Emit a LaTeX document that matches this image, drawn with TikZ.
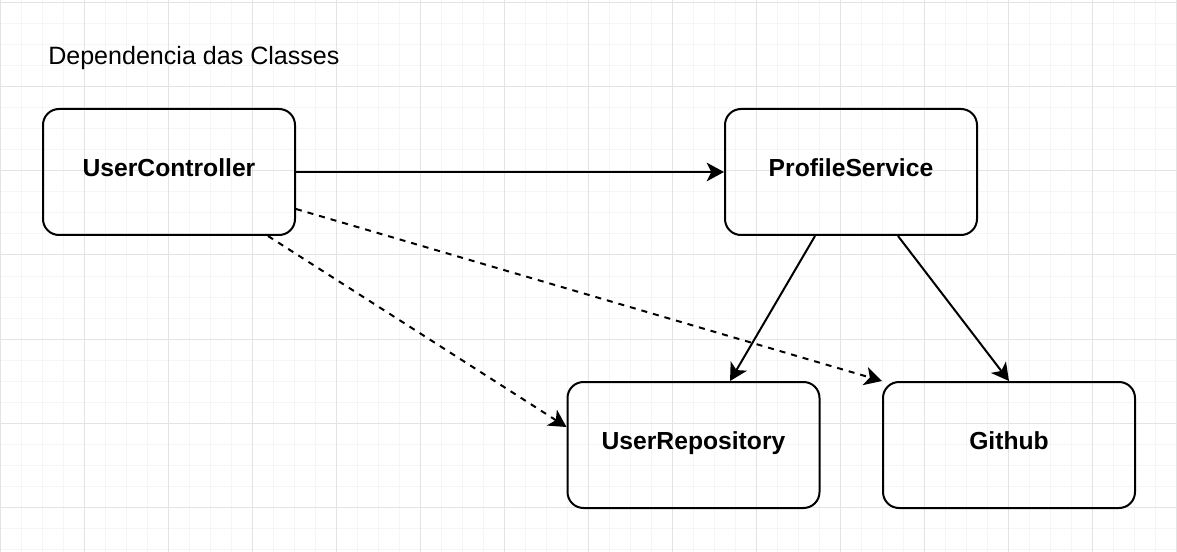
\documentclass[tikz,border=0pt]{standalone}
\usepackage{fontspec}
\setmainfont{Liberation Sans}
\usetikzlibrary{arrows.meta}

\begin{document}
\begin{tikzpicture}[
    x=0.75pt, y=-0.75pt,
    >={Stealth[length=13pt, width=14pt, inset=3.5pt]},
    font=\fontsize{18.8}{22}\selectfont,
    % Styles für Konsistenz
    klasse/.style={draw, line width=1.5pt, rounded corners=12pt,
        minimum width=189pt, minimum height=94.5pt, inner sep=0pt,
        font=\fontsize{18.5}{22}\selectfont\bfseries,
        text height=0.68em, text depth=0pt},
    pfeil/.style={->, line width=1.5pt},
    abhaengig/.style={pfeil, dash pattern=on 4.5pt off 4.5pt},
    feinraster/.style={black!4, line width=0.75pt},
    grobraster/.style={black!11, line width=0.75pt}
]

% --- HINTERGRUND: RASTER ---
\useasboundingbox (0,0) rectangle (1177,552);
\foreach \x in {0,21,...,1176} \draw[feinraster] (\x,0) -- (\x,552);
\foreach \y in {3,24,...,551} \draw[feinraster] (0,\y) -- (1177,\y);
\foreach \x in {0,84,...,1176} \draw[grobraster] (\x,0) -- (\x,552);
\foreach \y in {3,87,...,551} \draw[grobraster] (0,\y) -- (1177,\y);

% --- KLASSEN ---
\node[anchor=base west, inner sep=0pt] (titel) at (48,64.5) {Dependencia das Classes};

\node[klasse] (uc) at (169,172) {UserController};
\node[klasse] (ps) at (851,172) {ProfileService};
\node[klasse] (ur) at (693.5,445) {UserRepository};
\node[klasse] (gh) at (1009,445) {Github};

% --- ABHÄNGIGKEITEN ---
\draw[pfeil] (uc.east) -- (ps.west);
\draw[abhaengig] ([yshift=-27.75pt]uc.east) -- (gh.north west);
\draw[abhaengig] ([xshift=74.25pt]uc.south) -- ([yshift=13.5pt]ur.west);

\draw[pfeil] ([xshift=-27pt]ps.south) -- ([xshift=27.4pt]ur.north);
\draw[pfeil] ([xshift=35.25pt]ps.south) -- (gh.north);

\end{tikzpicture}
\end{document}
